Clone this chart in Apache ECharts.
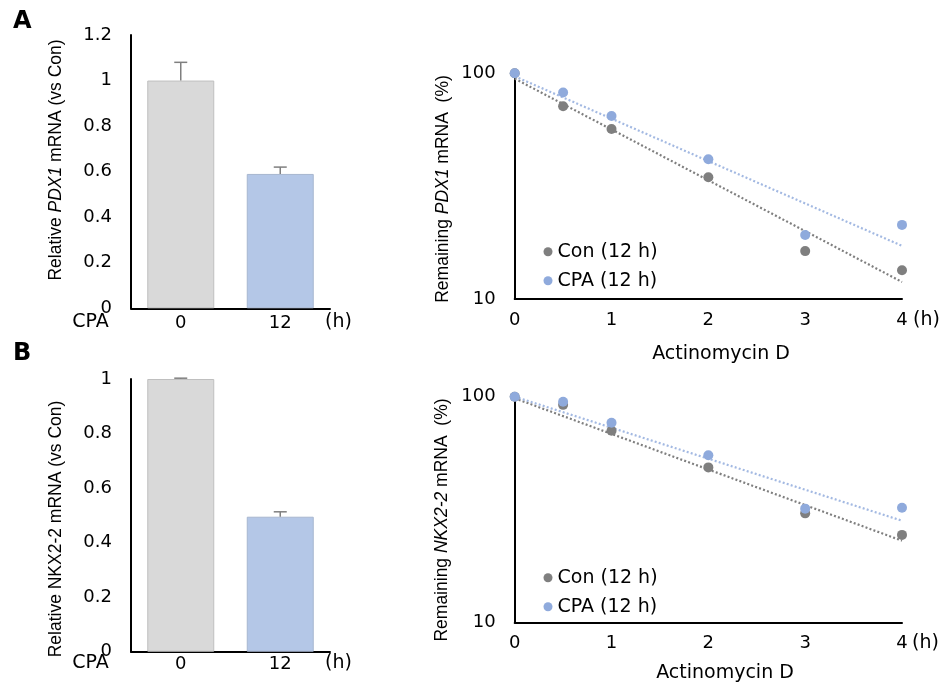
<!DOCTYPE html>
<html>
<head>
<meta charset="utf-8">
<script src="https://cdn.jsdelivr.net/npm/echarts@6/dist/echarts.min.js"></script>
<style>
html,body{margin:0;padding:0;background:#fff;}
#chart{width:951px;height:686px;}
</style>
</head>
<body>
<div id="chart"></div>
<script>
// ---- Data ----
const barCategories = ['0', '12'];
const pdx1Rel = [1.0, 0.59];
const pdx1RelErr = [0.08, 0.03];
const nkxRel = [1.0, 0.495];
const nkxRelErr = [0.003, 0.018];
const barYTicksA = [0, 0.2, 0.4, 0.6, 0.8, 1, 1.2];
const barYTicksB = [0, 0.2, 0.4, 0.6, 0.8, 1];

const timePoints = [0, 0.5, 1, 2, 3, 4];
const pdx1Con = [100, 71.4, 56.7, 34.6, 16.3, 13.4];
const pdx1Cpa = [100, 82.2, 64.7, 41.6, 19.2, 21.3];
const nkxCon = [100, 92, 70.7, 48.6, 30.4, 24.4];
const nkxCpa = [100, 95, 76.7, 55.0, 31.9, 32.2];

// trend lines (value at t=0 and t=4)
const trendX = [0, 4];
const pdx1ConTrend = [94.7, 11.9];
const pdx1CpaTrend = [97.0, 17.2];
const nkxConTrend = [98.4, 23.0];
const nkxCpaTrend = [100, 28.2];

const conName = 'Con (12 h)';
const cpaName = 'CPA (12 h)';

// ---- Styles ----
const FONT_H = 'DejaVu Sans';
const FONT_V = 'Liberation Sans';
const FS = 18;
const FS2 = 19;
const C_GRAY_BAR = '#D9D9D9';
const C_BLUE_BAR = '#B4C7E7';
const C_CON = '#7F7F7F';
const C_CPA = '#8FAADC';
const C_CPA_LINE = '#A3B9E2';

const pairs = (xs, ys) => xs.map((x, i) => [x, ys[i]]);

const chart = echarts.init(document.getElementById('chart'));

function barX(gi) {
  return {
    type: 'category', gridIndex: gi, data: barCategories,
    axisLine: { lineStyle: { color: '#000', width: 2 } },
    axisTick: { show: false },
    axisLabel: { color: '#000', fontFamily: FONT_H, fontSize: FS, margin: gi === 0 ? 6 : 4 }
  };
}
function barY(gi, max) {
  return {
    type: 'value', gridIndex: gi, min: 0, max: max, interval: 0.2,
    axisLine: { show: true, lineStyle: { color: '#000', width: 2 } },
    axisTick: { show: false },
    splitLine: { show: false },
    axisLabel: { color: '#000', fontFamily: FONT_H, fontSize: FS, margin: 19,
      formatter: v => String(Math.round(v * 10) / 10) }
  };
}
function lineX(gi) {
  return {
    type: 'value', gridIndex: gi, min: 0, max: 4, interval: 1,
    axisLine: { show: true, onZero: false, lineStyle: { color: '#000', width: 2 } },
    axisTick: { show: false },
    splitLine: { show: false },
    axisLabel: { color: '#000', fontFamily: FONT_H, fontSize: FS, margin: 12 }
  };
}
function lineY(gi) {
  return {
    type: 'log', logBase: 10, gridIndex: gi, min: 10, max: 100,
    axisLine: { show: true, lineStyle: { color: '#000', width: 2 } },
    axisTick: { show: false },
    splitLine: { show: false },
    axisLabel: { color: '#000', fontFamily: FONT_H, fontSize: FS, margin: 19 }
  };
}

function errSeries(xi, vals, errs) {
  return {
    type: 'custom', xAxisIndex: xi, yAxisIndex: xi, z: 5,
    data: vals.map((v, i) => [i, v, errs[i]]),
    encode: { x: 0, y: 1 },
    renderItem: function (params, api) {
      const i = api.value(0), v = api.value(1), e = api.value(2);
      const p0 = api.coord([i, v]);
      const p1 = api.coord([i, v + e]);
      const st = { stroke: '#7F7F7F', lineWidth: 1.5 };
      return {
        type: 'group',
        children: [
          { type: 'line', shape: { x1: p0[0], y1: p0[1], x2: p1[0], y2: p1[1] }, style: st },
          { type: 'line', shape: { x1: p1[0] - 6.5, y1: p1[1], x2: p1[0] + 6.5, y2: p1[1] }, style: st }
        ]
      };
    }
  };
}
function barSeries(xi, vals) {
  return {
    type: 'bar', xAxisIndex: xi, yAxisIndex: xi, barWidth: 67,
    data: vals.map((v, i) => ({
      value: v,
      itemStyle: { color: i === 0 ? C_GRAY_BAR : C_BLUE_BAR, borderColor: i === 0 ? '#BFBFBF' : '#A7B6CF', borderWidth: 1 }
    }))
  };
}
function trendSeries(xi, name, ys, color) {
  return {
    type: 'line', name: name, xAxisIndex: xi, yAxisIndex: xi, z: 2,
    data: pairs(trendX, ys), showSymbol: false, symbol: 'none', silent: true,
    lineStyle: { color: color, width: 2.2, type: [2, 2.2] }
  };
}
function scatterSeries(xi, name, ys, color, z) {
  return {
    type: 'scatter', name: name, xAxisIndex: xi, yAxisIndex: xi, z: z,
    data: pairs(timePoints, ys), symbol: 'circle', symbolSize: 10,
    itemStyle: { color: color, opacity: 1 }
  };
}
function legendAt(top) {
  return {
    data: [conName, cpaName], orient: 'vertical', left: 543.5, top: top, padding: 0,
    itemWidth: 9, itemHeight: 9, itemGap: 10, icon: 'circle',
    textStyle: { color: '#000', fontFamily: FONT_H, fontSize: FS2, lineHeight: 19 },
    selectedMode: false
  };
}
function hText(text, x, y, align, size) {
  return {
    type: 'text', x: x, y: y,
    style: { text: text, fill: '#000', font: (size || FS) + 'px "' + FONT_H + '"', textAlign: align || 'left', textVerticalAlign: 'middle' }
  };
}
function vText(text, x, y) {
  return {
    type: 'text', x: x, y: y, rotation: Math.PI / 2,
    style: {
      text: text, fill: '#000', fontFamily: FONT_V, fontSize: 17,
      textAlign: 'center', textVerticalAlign: 'middle',
      rich: { i: { fontStyle: 'italic', fontFamily: FONT_V, fontSize: 17.5, fill: '#000' },
              n: { fontFamily: FONT_V, fontSize: 17.5, fill: '#000' } }
    }
  };
}

const option = {
  animation: false,
  backgroundColor: '#fff',
  grid: [
    { left: 131, top: 35, width: 199, height: 273.3 },
    { left: 131, top: 379, width: 199, height: 272.7 },
    { left: 514.7, top: 73.3, width: 387.3, height: 225.7 },
    { left: 514.7, top: 396.7, width: 387.3, height: 225.6 }
  ],
  xAxis: [barX(0), barX(1), lineX(2), lineX(3)],
  yAxis: [barY(0, 1.2), barY(1, 1), lineY(2), lineY(3)],
  legend: [legendAt(242.2), legendAt(568.2)],
  series: [
    barSeries(0, pdx1Rel), errSeries(0, pdx1Rel, pdx1RelErr),
    barSeries(1, nkxRel), errSeries(1, nkxRel, nkxRelErr),
    trendSeries(2, 'conTrendA', pdx1ConTrend, C_CON),
    trendSeries(2, 'cpaTrendA', pdx1CpaTrend, C_CPA_LINE),
    scatterSeries(2, conName, pdx1Con, C_CON, 3),
    scatterSeries(2, cpaName, pdx1Cpa, C_CPA, 4),
    trendSeries(3, 'conTrendB', nkxConTrend, C_CON),
    trendSeries(3, 'cpaTrendB', nkxCpaTrend, C_CPA_LINE),
    scatterSeries(3, conName, nkxCon, C_CON, 3),
    scatterSeries(3, cpaName, nkxCpa, C_CPA, 4)
  ],
  graphic: [
    { type: 'text', x: 13, y: 22, style: { text: 'A', fill: '#000', font: 'bold 24px "DejaVu Sans"', textVerticalAlign: 'middle' } },
    { type: 'text', x: 13, y: 354, style: { text: 'B', fill: '#000', font: 'bold 24px "DejaVu Sans"', textVerticalAlign: 'middle' } },
    hText('CPA', 90.5, 321.7, 'center', FS2),
    hText('(h)', 325, 322, 'left', FS2),
    hText('CPA', 90.5, 663.3, 'center', FS2),
    hText('(h)', 325, 663.3, 'left', FS2),
    hText('(h)', 913, 320, 'left', FS2),
    hText('(h)', 912, 643.3, 'left', FS2),
    hText('Actinomycin D', 721, 354, 'center', FS2),
    hText('Actinomycin D', 725, 673, 'center', FS2),
    vText('{n|Relative }{i|PDX1}{n| mRNA (vs Con)}', 56, 160),
    vText('{n|Relative NKX2-2 mRNA (vs Con)}', 56, 529),
    vText('{n|Remaining }{i|PDX1}{n| mRNA  (%)}', 443, 189),
    vText('{n|Remaining }{i|NKX2-2}{n| mRNA  (%)}', 442, 520)
  ]
};
chart.setOption(option);
</script>
</body>
</html>
